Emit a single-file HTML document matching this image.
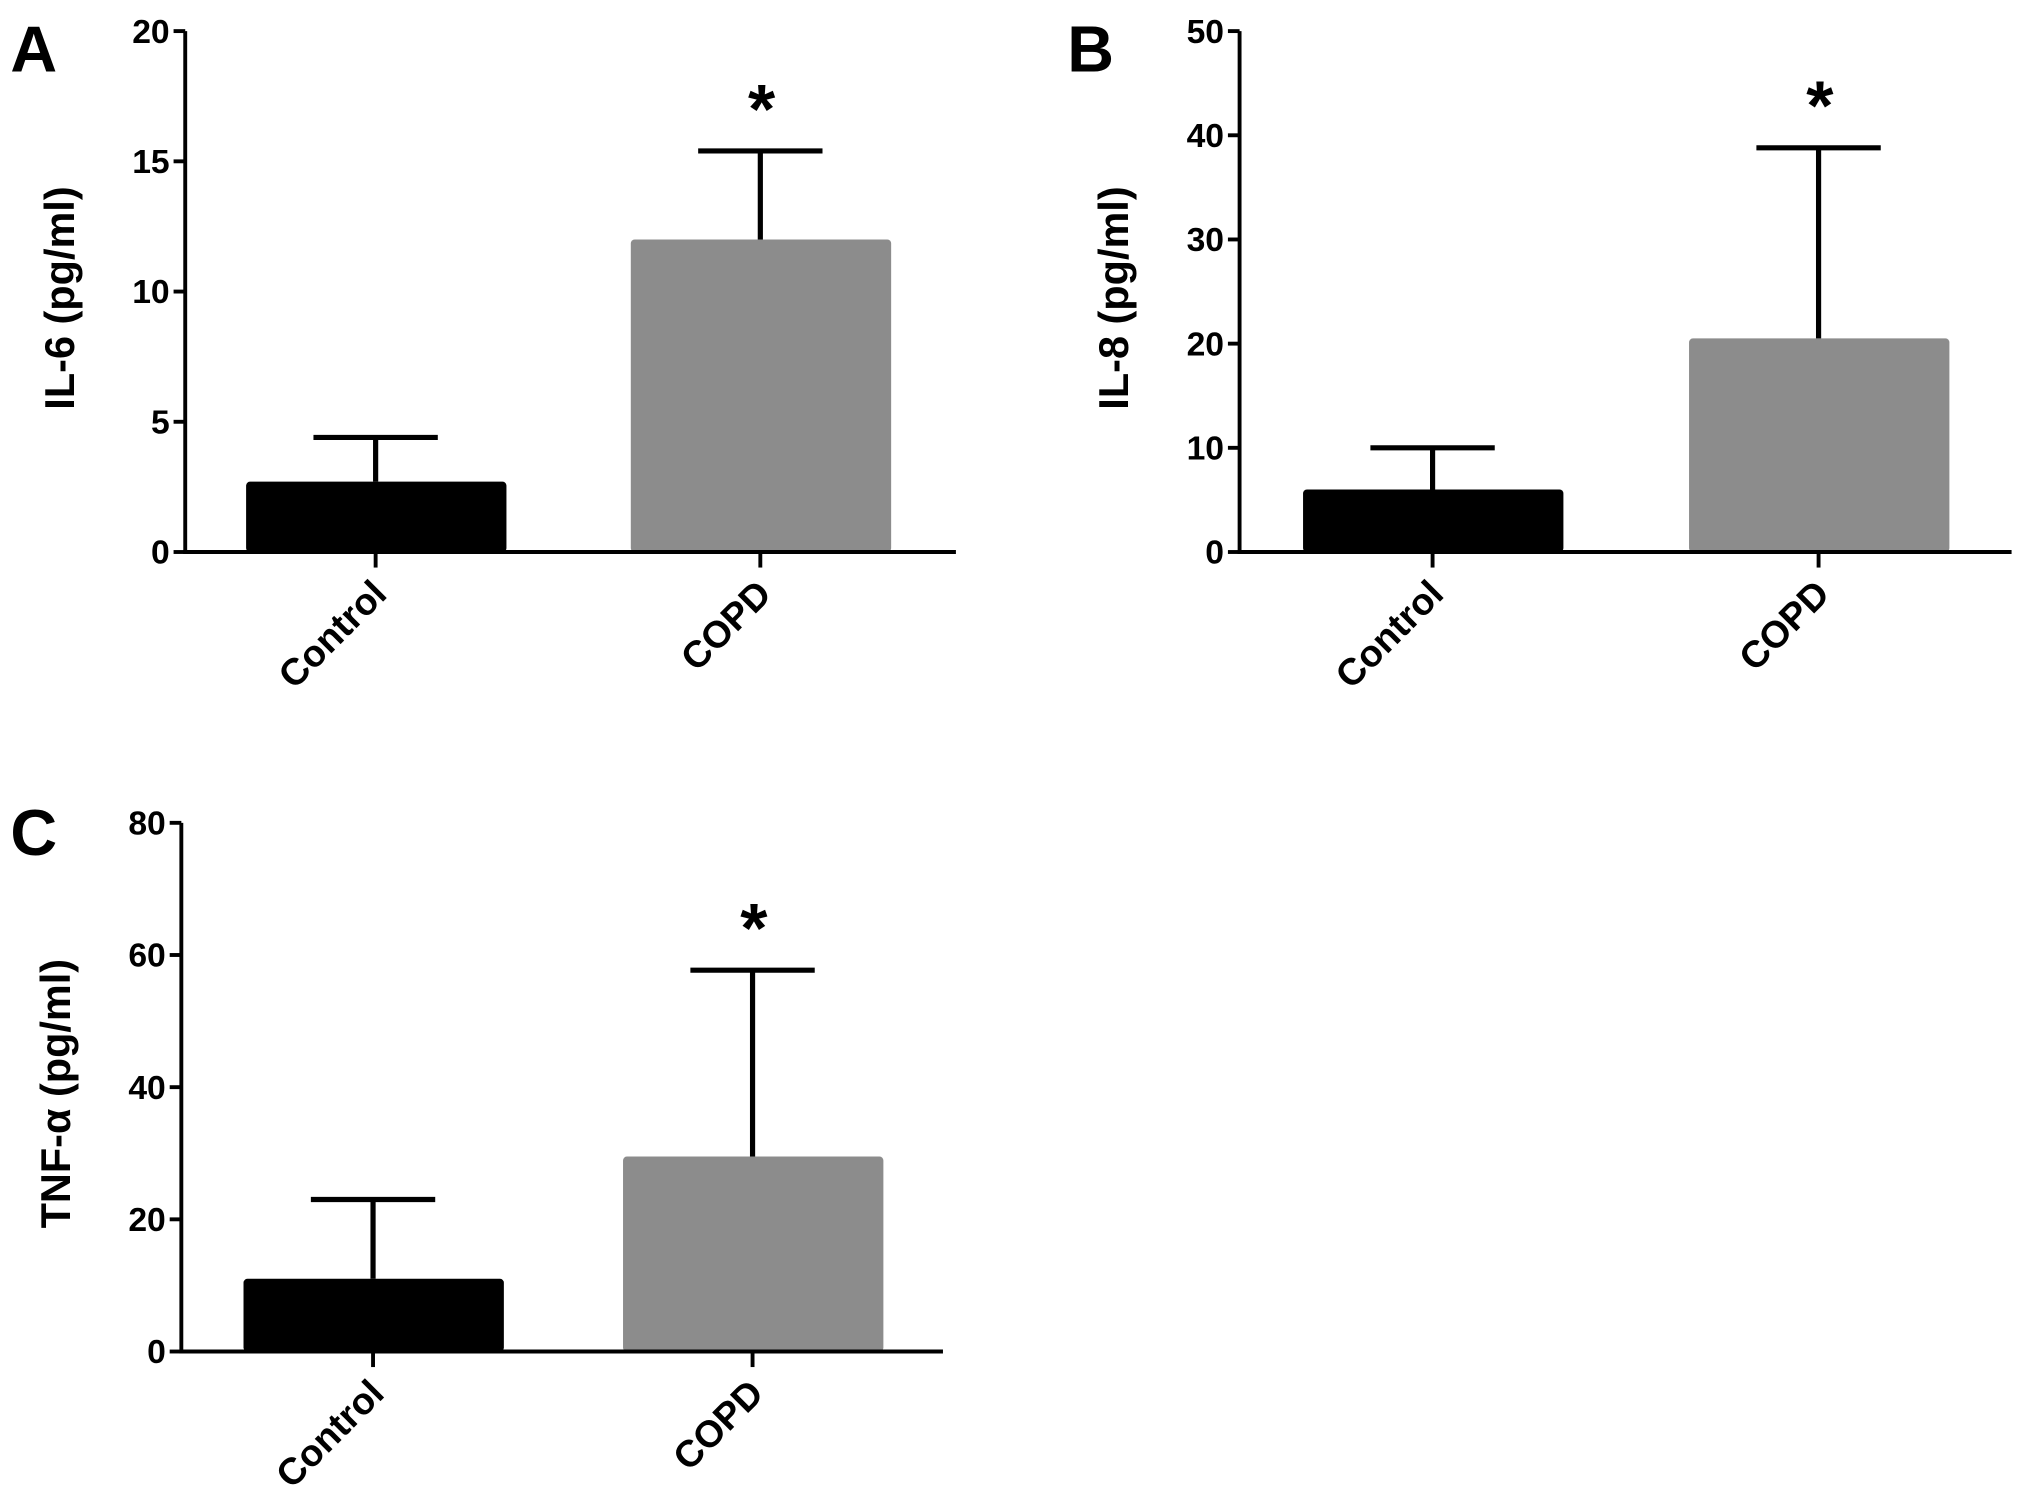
<!DOCTYPE html>
<html><head><meta charset="utf-8"><style>
html,body{margin:0;padding:0;background:#fff;}
svg{display:block;}
text{font-family:"Liberation Sans",Arial,sans-serif;font-weight:bold;fill:#000;}
</style></head><body>
<svg id="fig" width="2031" height="1507" viewBox="0 0 1568 1163" preserveAspectRatio="none" xmlns="http://www.w3.org/2000/svg"></svg>
<script>
const categories = ["Control", "COPD"];
const il6Means = [2.7, 12.0];
const il6Errors = [1.7, 3.4];
const il6Ticks = [0, 5, 10, 15, 20];
const il8Means = [6.0, 20.5];
const il8Errors = [4.0, 18.3];
const il8Ticks = [0, 10, 20, 30, 40, 50];
const tnfMeans = [11.0, 29.5];
const tnfErrors = [12.0, 28.2];
const tnfTicks = [0, 20, 40, 60, 80];
const barColors = ["#000000", "#8c8c8c"];

const NS = "http://www.w3.org/2000/svg";
const svg = document.getElementById("fig");
function mk(tag, attrs, parent) {
  const e = document.createElementNS(NS, tag);
  for (const k in attrs) e.setAttribute(k, attrs[k]);
  (parent || svg).appendChild(e);
  return e;
}

function panel(cfg) {
  const g = mk("g", {});
  
  
  const ticks = cfg.ticks, ymax = ticks[ticks.length - 1];
  const y = v => cfg.y0 - (v / ymax) * (cfg.y0 - cfg.yTop);
  const step = cfg.step;
  const cx = i => cfg.x0 + cfg.firstC + i * step;
  const L = mk("text", {x: cfg.letterX, y: cfg.letterY, "font-size": 50}, g);
  L.textContent = cfg.letter;
  
  
  cfg.means.forEach((m, i) => {
    const r = mk("rect", {x: cx(i) - 100, y: y(m), width: 201, height: cfg.y0 - y(m), fill: barColors[i], rx: 3}, g);
    
    
    const top = y(m + cfg.errs[i]);
    const eg = mk("g", {stroke: "#000", "stroke-width": 4}, g);
    
    
    mk("line", {x1: cx(i), x2: cx(i), y1: y(m), y2: top}, eg);
    mk("line", {x1: cx(i) - 48, x2: cx(i) + 48, y1: top, y2: top}, eg);
    if (i === 1) {
      const s = mk("text", {x: cx(i) + 1, y: top - 14, "font-size": 54, "text-anchor": "middle"}, g);
      s.textContent = "*";
      
      
    }
    mk("line", {x1: cx(i), x2: cx(i), y1: cfg.y0, y2: cfg.y0 + 12, stroke: "#000", "stroke-width": 3}, g);
    const t = mk("text", {x: 0, y: 0, "font-size": 29, "text-anchor": "end", transform: `translate(${cx(i) + 10},${cfg.y0 + 34}) rotate(-45)`}, g);
    t.textContent = categories[i];
    
    
  });
  const ax = mk("g", {stroke: "#000", "stroke-width": 3}, g);
  
  
  mk("line", {x1: cfg.x0, x2: cfg.x0, y1: cfg.yTop, y2: cfg.y0 + 1.5}, ax);
  mk("line", {x1: cfg.x0 - 1.5, x2: cfg.xEnd, y1: cfg.y0, y2: cfg.y0}, ax);
  ticks.forEach(v => {
    mk("line", {x1: cfg.x0 - 9, x2: cfg.x0, y1: y(v), y2: y(v)}, ax);
    const t = mk("text", {x: cfg.x0 - 12, y: y(v) + 9, "font-size": 26, "text-anchor": "end"}, g);
    t.textContent = v;
    
    
  });
  const yt = mk("text", {x: 0, y: 0, "font-size": 32, "text-anchor": "middle", transform: `translate(${cfg.x0 - 86},${(cfg.yTop + cfg.y0) / 2 + 5}) rotate(-90)`}, g);
  yt.textContent = cfg.title;
  
  
}

panel({id: "il6", letter: "A", letterX: 8, letterY: 55, x0: 143, xEnd: 738, yTop: 24, y0: 426, firstC: 147, step: 297, ticks: il6Ticks, means: il6Means, errs: il6Errors, title: "IL-6 (pg/ml)"});
panel({id: "il8", letter: "B", letterX: 824, letterY: 55, x0: 957, xEnd: 1553, yTop: 24, y0: 426, firstC: 149, step: 298, ticks: il8Ticks, means: il8Means, errs: il8Errors, title: "IL-8 (pg/ml)"});
panel({id: "tnf", letter: "C", letterX: 8, letterY: 660, x0: 140, xEnd: 728, yTop: 635, y0: 1043, firstC: 148, step: 293, ticks: tnfTicks, means: tnfMeans, errs: tnfErrors, title: "TNF-α (pg/ml)"});
</script>
</body></html>
